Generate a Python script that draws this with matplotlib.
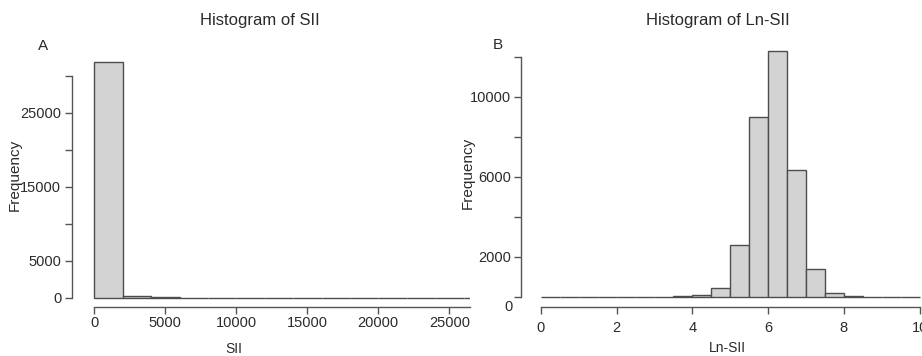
import numpy as np
import matplotlib.pyplot as plt

plt.rcParams['font.family'] = 'Liberation Sans'

# counts
sii_edges = np.arange(0, 30001, 2000)
sii_counts = [31900, 250, 30, 12, 5, 3, 2, 1, 1, 1, 0, 1, 0, 1, 0]

ln_edges = np.arange(0, 10.01, 0.5)
ln_counts = [2, 1, 2, 3, 4, 6, 10, 25, 70, 460, 2580, 8970, 12300, 6335,
             1370, 200, 40, 8, 3, 1]

sii_yticks = [0, 5000, 10000, 15000, 20000, 25000, 30000]
sii_ylabels = ['0', '5000', '', '15000', '', '25000', '']
sii_xticks = [0, 5000, 10000, 15000, 20000, 25000]
ln_yticks = [0, 2000, 4000, 6000, 8000, 10000, 12000]
ln_ylabels = ['', '2000', '', '6000', '', '10000', '']
ln_xticks = [0, 2, 4, 6, 8, 10]

W, H = 922, 356
fig = plt.figure(figsize=(W / 100, H / 100), dpi=100)
PT = 0.72  # points per pixel
axis_col = '#555555'
txt_col = '#2b2b2b'


def make_axes(bx0, bx1, by0, by1, x0px, xscale, y0px, yscale):
    # box in pixels, data -> pixel mapping x0px + v*xscale, y0px - v*yscale
    ax = fig.add_axes([bx0 / W, 1 - by1 / H, (bx1 - bx0) / W, (by1 - by0) / H])
    ax.set_xlim((bx0 - x0px) / xscale, (bx1 - x0px) / xscale)
    ax.set_ylim((y0px - by1) / yscale, (y0px - by0) / yscale)
    ax.spines['top'].set_visible(False)
    ax.spines['right'].set_visible(False)
    for s in ['left', 'bottom']:
        ax.spines[s].set_color(axis_col)
        ax.spines[s].set_linewidth(1.0)
    ax.tick_params(colors=axis_col, labelcolor=txt_col, length=5, width=1.0,
                   labelsize=10.5)
    return ax


# panel A
ax1 = make_axes(92, 470, 40, 300, 94.3, 0.0142, 297.7, 0.0074)
ax1.bar(sii_edges[:-1], sii_counts, width=np.diff(sii_edges), align='edge',
        color='#d3d3d3', edgecolor='#4d4d4d', linewidth=1.0)
ax1.spines['left'].set_position(('outward', (94.3 - 92 + 17.3) * PT))
ax1.spines['left'].set_bounds(0, 30000)
ax1.spines['bottom'].set_position(('outward', 6.7 * PT))
ax1.spines['bottom'].set_bounds(0, ax1.get_xlim()[1])
ax1.set_yticks(sii_yticks, sii_ylabels)
ax1.set_xticks(sii_xticks, [str(t) for t in sii_xticks])
ax1.tick_params(axis='y', pad=3)
ax1.tick_params(axis='x', pad=2)

# panel B
ax2 = make_axes(539, 922, 40, 299, 540.7, 37.9, 296.7, 0.02)
ax2.bar(ln_edges[:-1], ln_counts, width=np.diff(ln_edges), align='edge',
        color='#d3d3d3', edgecolor='#4d4d4d', linewidth=1.0)
ax2.spines['left'].set_position(('outward', (540.7 - 539 + 16.4) * PT))
ax2.spines['left'].set_bounds(0, 12000)
ax2.spines['bottom'].set_position(('outward', 8.3 * PT))
ax2.spines['bottom'].set_bounds(0, 10)
ax2.set_yticks(ln_yticks, ln_ylabels)
ax2.set_xticks(ln_xticks, [str(t) for t in ln_xticks])
ax2.tick_params(axis='y', pad=2)
ax2.tick_params(axis='x', pad=5)

# texts
fig.text(260 / W, 1 - 21 / H, 'Histogram of SII', ha='center', va='center',
         fontsize=12, color=txt_col)
fig.text(718 / W, 1 - 21 / H, 'Histogram of Ln-SII', ha='center', va='center',
         fontsize=12, color=txt_col)
fig.text(43 / W, 1 - 46 / H, 'A', ha='center', va='center', fontsize=11,
         color=txt_col)
fig.text(498 / W, 1 - 45 / H, 'B', ha='center', va='center', fontsize=11,
         color=txt_col)
fig.text(15 / W, 1 - 175 / H, 'Frequency', ha='center', va='center',
         rotation=90, fontsize=11, color=txt_col)
fig.text(468 / W, 1 - 173 / H, 'Frequency', ha='center', va='center',
         rotation=90, fontsize=11, color=txt_col)
fig.text(234 / W, 1 - 349 / H, 'SII', ha='center', va='center', fontsize=10,
         color=txt_col)
fig.text(727 / W, 1 - 348 / H, 'Ln-SII', ha='center', va='center',
         fontsize=10, color=txt_col)
fig.text(508 / W, 1 - 306.7 / H, '0', ha='center', va='center',
         fontsize=10.5, color=txt_col)

fig.savefig('out.png', dpi=100)
